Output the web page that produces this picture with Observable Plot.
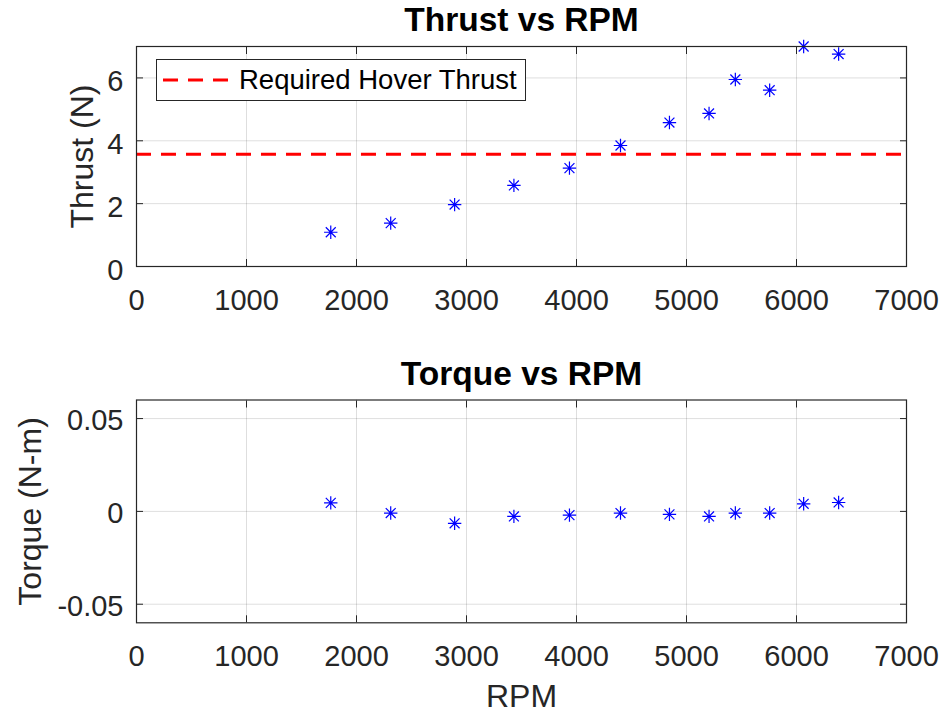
<!DOCTYPE html>
<html><head><meta charset="utf-8">
<script src="https://cdn.jsdelivr.net/npm/d3@7"></script>
<script src="https://cdn.jsdelivr.net/npm/@observablehq/plot@0.6"></script>
<style>
body{margin:0;background:#fff;}
#wrap{position:relative;width:945px;height:713px;font-family:"Liberation Sans",Arial,sans-serif;overflow:hidden;}
#top,#bot{position:absolute;left:0;}
#top{top:0}
#bot{top:340px}
#legend{position:absolute;left:156px;top:59px;width:370px;height:42px;border:1px solid #262626;background:#fff;box-sizing:border-box;}
#legend svg{position:absolute;left:0;top:0}
#legend span{position:absolute;left:82px;top:4px;font-size:27.5px;line-height:32px;color:#000;white-space:nowrap;}
</style></head><body>
<div id="wrap"><div id="top"></div><div id="bot"></div>
<div id="legend"><svg width="80" height="40"><line x1="6" x2="76" y1="20" y2="20" stroke="#ff0000" stroke-width="3" stroke-dasharray="15,10"/></svg><span>Required Hover Thrust</span></div>
</div>
<script>
const rpm    = [1766, 2311, 2892, 3431, 3936, 4400, 4845, 5205, 5444, 5756, 6065, 6383];
const thrust = [1.09, 1.38, 1.97, 2.58, 3.13, 3.85, 4.58, 4.87, 5.95, 5.61, 7.00, 6.76];
const torque = [0.0046, -0.0009, -0.0064, -0.0027, -0.0020, -0.0009, -0.0016, -0.0027, -0.0009, -0.0009, 0.0041, 0.0048];
const hoverThrust = 3.57;
const xTicks = [0, 1000, 2000, 3000, 4000, 5000, 6000, 7000];
const thrustTicks = [0, 2, 4, 6];
const torqueTicks = [-0.05, 0, 0.05];
const xDomain = [0, 7000];
const thrustDomain = [0, 7];
const torqueDomain = [-0.06, 0.06];

const thrustData = rpm.map((r, i) => ({rpm: r, v: thrust[i]}));
const torqueData = rpm.map((r, i) => ({rpm: r, v: torque[i]}));

const asterisk = {
  draw(ctx, size) {
    const r = Math.sqrt(size / Math.PI), d = r * 0.74;
    ctx.moveTo(0, -r); ctx.lineTo(0, r);
    ctx.moveTo(-r, 0); ctx.lineTo(r, 0);
    ctx.moveTo(-d, -d); ctx.lineTo(d, d);
    ctx.moveTo(-d, d); ctx.lineTo(d, -d);
  }
};

const fontFamily = '"Liberation Sans", Arial, Helvetica, sans-serif';
const gridStyle = {stroke: "#000", strokeOpacity: 0.13};
const fmtX = d => String(d);

function panel({data, yDomain, yTicks, yFmt, height, mt, mb, title, titleDy, ylabel, ylabelDx, xlabel, extra, tickDy}) {
  return Plot.plot({
    width: 945, height,
    marginLeft: 136, marginRight: 39, marginTop: mt, marginBottom: mb,
    style: {fontFamily, fontSize: "29px", color: "#262626", background: "transparent", overflow: "visible"},
    x: {domain: xDomain},
    y: {domain: yDomain},
    marks: [
      Plot.gridX(xTicks, gridStyle),
      Plot.gridY(yTicks, gridStyle),
      ...(extra || []),
      Plot.dot(data, {x: "rpm", y: "v", r: 6.7, symbol: asterisk, fill: "none", stroke: "#0000ff", strokeWidth: 1.2}),
      Plot.axisX(xTicks, {anchor: "bottom", tickSize: 0, tickPadding: 23, tickFormat: fmtX, label: null, fill: "#262626"}),
      Plot.axisY(yTicks, {anchor: "left", tickSize: 0, tickPadding: 13, tickFormat: yFmt, dy: tickDy, label: null, fill: "#262626"}),
      Plot.axisX(xTicks, {anchor: "bottom", tickSize: -7, tickFormat: () => "", label: null, stroke: "#262626"}),
      Plot.axisX(xTicks, {anchor: "top", tickSize: -7, tickFormat: () => "", label: null, stroke: "#262626"}),
      Plot.axisY(yTicks, {anchor: "left", tickSize: -7, tickFormat: () => "", label: null, stroke: "#262626"}),
      Plot.axisY(yTicks, {anchor: "right", tickSize: -7, tickFormat: () => "", label: null, stroke: "#262626"}),
      Plot.frame({stroke: "#262626", strokeWidth: 1.2}),
      Plot.text([title], {text: d => d, frameAnchor: "top", dy: titleDy, textAnchor: "middle", lineAnchor: "middle", fontWeight: "bold", fontSize: 33.5, fill: "#000"}),
      Plot.text([ylabel], {text: d => d, frameAnchor: "left", rotate: -90, dx: ylabelDx, textAnchor: "middle", lineAnchor: "middle", fontSize: 32, fill: "#262626"}),
      ...(xlabel ? [Plot.text([xlabel], {text: d => d, frameAnchor: "bottom", dy: 74, textAnchor: "middle", lineAnchor: "middle", fontSize: 32, fill: "#262626"})] : [])
    ]
  });
}

document.getElementById("top").append(panel({
  data: thrustData, yDomain: thrustDomain, yTicks: thrustTicks, yFmt: d => String(d),
  height: 340, mt: 46, mb: 74, title: "Thrust vs RPM", titleDy: -26.5,
  ylabel: "Thrust (N)", ylabelDx: -54, tickDy: 4,
  extra: [Plot.ruleY([hoverThrust], {stroke: "#ff0000", strokeWidth: 3, strokeDasharray: "15,10"})]
}));

document.getElementById("bot").append(panel({
  data: torqueData, yDomain: torqueDomain, yTicks: torqueTicks,
  yFmt: d => d === 0 ? "0" : (d < 0 ? "-" : "") + Math.abs(d).toFixed(2),
  height: 373, mt: 59.5, mb: 90.7, title: "Torque vs RPM", titleDy: -26,
  ylabel: "Torque (N-m)", ylabelDx: -106, xlabel: "RPM", tickDy: 2.5
}));
</script>
</body></html>
